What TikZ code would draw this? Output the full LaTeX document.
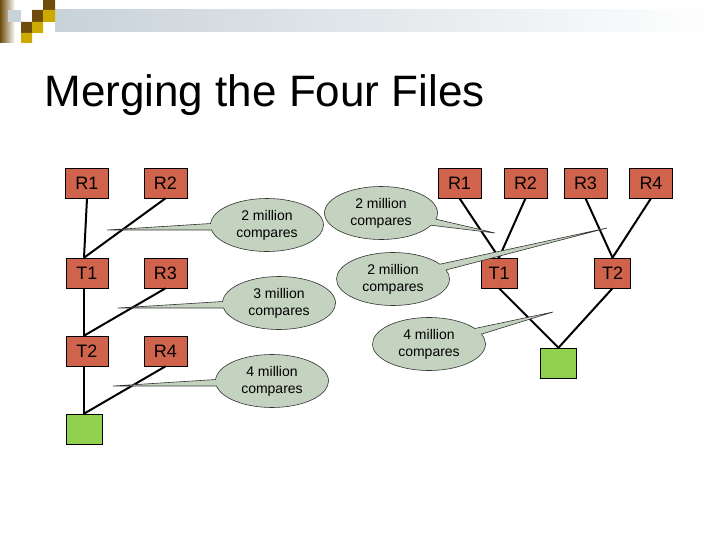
\documentclass[tikz,border=0pt]{standalone}
\usepackage{fontspec}
\setmainfont{Liberation Sans}
\usepackage{xcolor}
\usepackage{tikz}
\usetikzlibrary{shapes.callouts}

\definecolor{runred}{RGB}{208,99,76}
\definecolor{outgreen}{RGB}{146,208,80}
\definecolor{bubblegreen}{RGB}{196,211,191}
\definecolor{barblue}{RGB}{200,210,217}
\definecolor{tilebrown}{RGB}{110,76,12}
\definecolor{tilegold}{RGB}{204,170,0}

\tikzset{
  runbox/.style={draw=black, line width=0.6pt, fill=runred, inner sep=0pt,
    minimum width=43pt, minimum height=30pt, font=\fontsize{18}{20}\selectfont},
  tempbox/.style={runbox, minimum width=42pt},
  tempnarrow/.style={runbox, minimum width=36pt},
  outbox/.style={runbox, fill=outgreen, minimum width=36pt},
  merge/.style={line width=2pt, black},
  bubble/.style={ellipse callout, draw=black!80, line width=0.6pt, fill=bubblegreen,
    minimum width=113pt, minimum height=53pt, inner sep=0pt, align=center,
    callout pointer arc=14, font=\fontsize{14}{17}\selectfont}
}

\begin{document}
\begin{tikzpicture}[x=1pt,y=-1pt]
    \useasboundingbox (0,0) rectangle (720,540);
    % header band
    \shade[left color=tilebrown, right color=white] (0,0) rectangle (15,43);
    \fill[barblue] (8,10) rectangle (21,22);
    \shade[left color=barblue, right color=white] (55,10) rectangle (720,32);
    \fill[tilebrown] (43,0) rectangle (55,10) (32,10) rectangle (43,22) (21,22) rectangle (32,33);
    \fill[tilegold] (43,10) rectangle (55,22) (32,22) rectangle (43,33) (21,33) rectangle (32,43);
    \node[anchor=base west, font=\fontsize{44}{50}\selectfont] (title) at (41,107) {Merging the Four Files};

    % one run at a time
    \node[runbox] (lr1) at (87,183) {R1};
    \node[runbox] (lr2) at (165.5,183) {R2};
    \node[tempbox] (lt1) at (87,273) {T1};
    \node[runbox] (lr3) at (165.5,273) {R3};
    \node[tempbox] (lt2) at (87,351) {T2};
    \node[runbox] (lr4) at (165.5,351) {R4};
    \node[outbox] (lout) at (84,429) {};
    \draw[merge] (lr1.south) -- ([xshift=-3pt]lt1.north);
    \draw[merge] (lr2.south) -- ([xshift=-3pt]lt1.north);
    \draw[merge] ([xshift=-3pt]lt1.south) -- ([xshift=-3pt]lt2.north);
    \draw[merge] (lr3.south) -- ([xshift=-3pt]lt2.north);
    \draw[merge] ([xshift=-3pt]lt2.south) -- (lout.north);
    \draw[merge] (lr4.south) -- (lout.north);

    % pairwise
    \node[runbox] (rr1) at (459.5,183) {R1};
    \node[runbox] (rr2) at (525.5,183) {R2};
    \node[runbox] (rr3) at (585.5,183) {R3};
    \node[runbox] (rr4) at (651,183) {R4};
    \node[tempnarrow] (rt1) at (499,273) {T1};
    \node[tempnarrow] (rt2) at (612.5,273) {T2};
    \node[outbox] (rout) at (558.5,363) {};
    \draw[merge] (rr1.south) -- (rt1.north);
    \draw[merge] (rr2.south) -- (rt1.north);
    \draw[merge] (rr3.south) -- (rt2.north);
    \draw[merge] (rr4.south) -- (rt2.north);
    \draw[merge] (rt1.south) -- (rout.north);
    \draw[merge] (rt2.south) -- (rout.north);

    % compare counts
    \coordinate (ltipa) at (107,230);
    \coordinate (ltipb) at (118,308);
    \coordinate (ltipc) at (113,386);
    \coordinate (rtipa) at (495,233);
    \coordinate (rtipb) at (607,228);
    \coordinate (rtipc) at (553,312);
    \node[bubble, callout absolute pointer={(ltipa)}] (lcmpa) at (267,225) {2 million\\compares};
    \node[bubble, callout absolute pointer={(ltipb)}] (lcmpb) at (279,303) {3 million\\compares};
    \node[bubble, callout absolute pointer={(ltipc)}] (lcmpc) at (272,381) {4 million\\compares};
    \node[bubble, callout absolute pointer={(rtipa)}] (rcmpa) at (381,213) {2 million\\compares};
    \node[bubble, callout absolute pointer={(rtipb)}] (rcmpb) at (393,279) {2 million\\compares};
    \node[bubble, callout absolute pointer={(rtipc)}] (rcmpc) at (429,344) {4 million\\compares};
\end{tikzpicture}
\end{document}
